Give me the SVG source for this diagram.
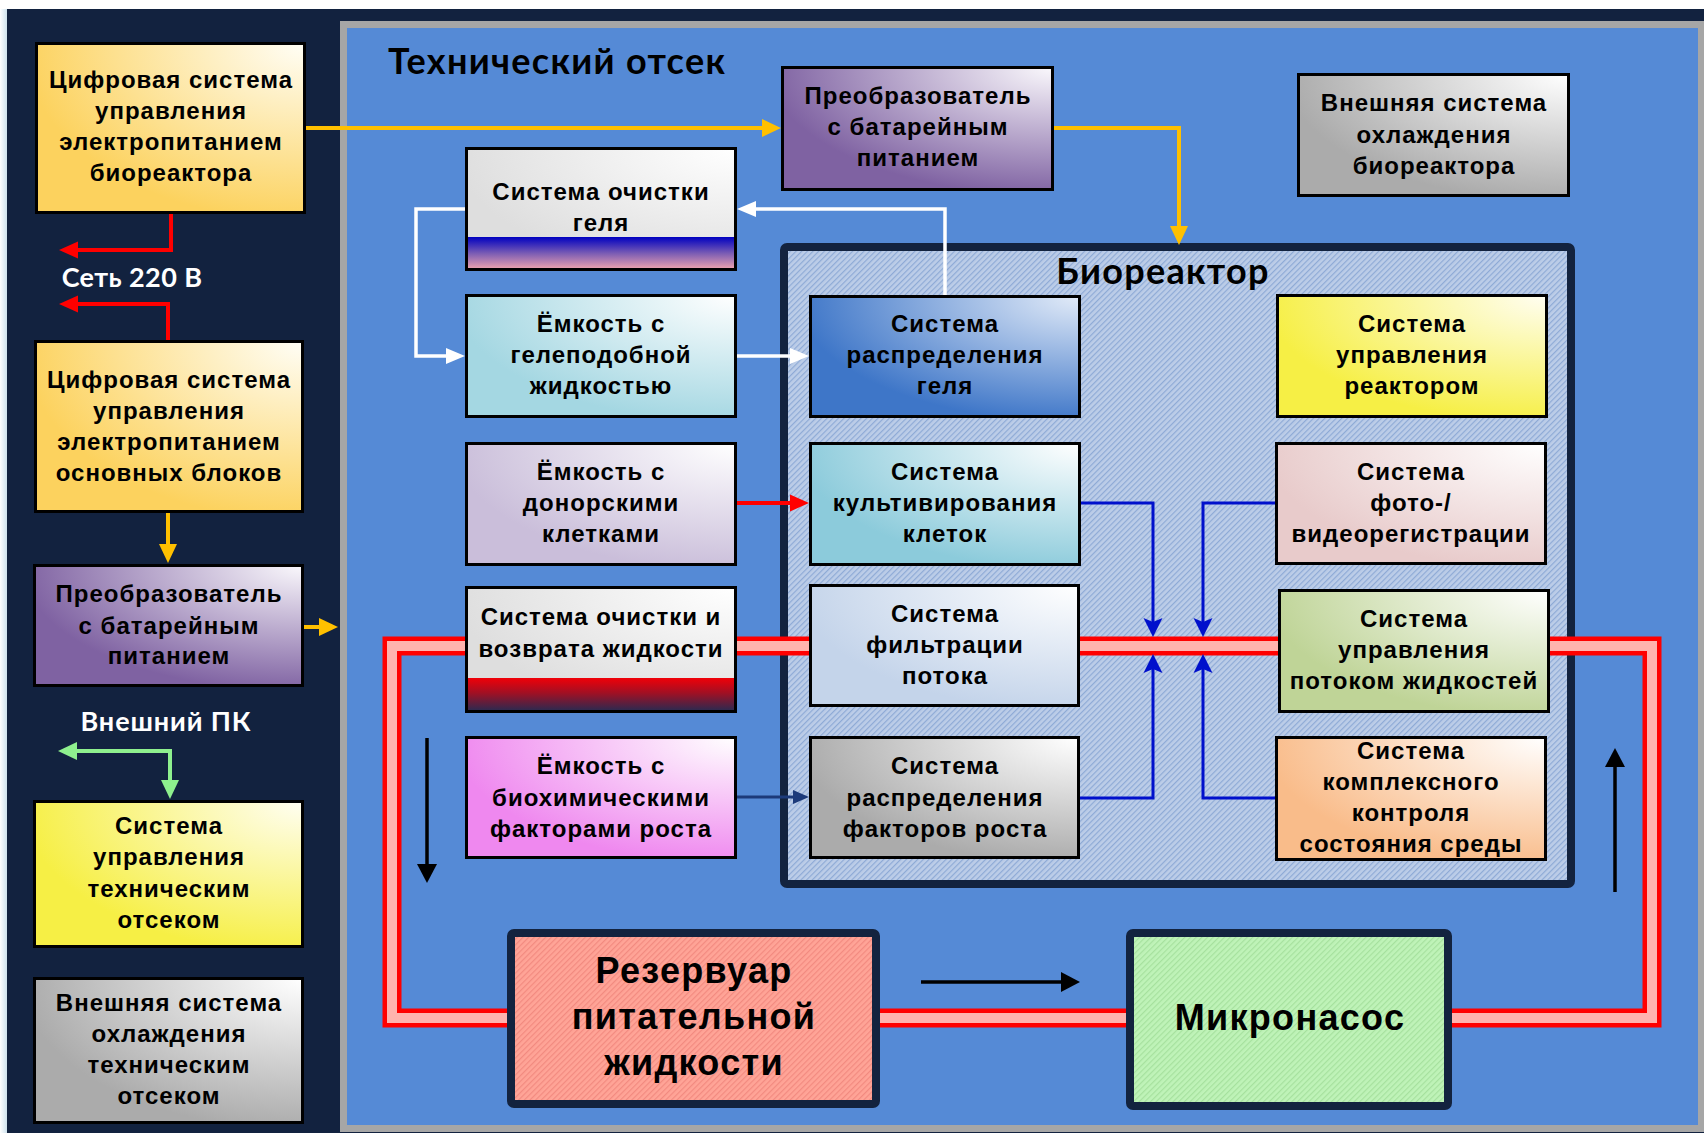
<svg xmlns="http://www.w3.org/2000/svg" width="1704" height="1133" viewBox="0 0 1704 1133">
<defs>
<style>
.t{font-family:"Liberation Sans",Arial,sans-serif;font-weight:bold;font-size:24px;letter-spacing:1px;text-anchor:middle;fill:#000}
.big{font-size:36px;letter-spacing:1.3px}
.ttl{font-family:Lato,"Liberation Sans",sans-serif;font-weight:bold;font-size:36px;letter-spacing:1.3px;fill:#000}
.lbl{font-family:Lato,"Liberation Sans",sans-serif;font-weight:bold;font-size:27px;fill:#fff;text-anchor:middle}
.bx{stroke:#000;stroke-width:3}
.bd{fill:none;stroke:#000;stroke-width:3}
.nv{stroke:#13233f;stroke-width:8}
.c{fill:none;stroke-linejoin:miter}
.cy{stroke:#ffc000;stroke-width:4}
.cr{stroke:#ff0000;stroke-width:4}
.cg{stroke:#8ef08e;stroke-width:4}
.cw{stroke:#ffffff;stroke-width:3.5}
.cb{stroke:#0010cc;stroke-width:3}
.cn{stroke:#1c3a7a;stroke-width:3}
.ck{stroke:#000;stroke-width:3.5}
</style>
<radialGradient id="gGold" cx="1" cy="0" r="1.05"><stop offset="0" stop-color="#fffef6"/><stop offset="1" stop-color="#fcd25e"/></radialGradient>
<radialGradient id="gPurple" cx="1" cy="0" r="1.05"><stop offset="0" stop-color="#faf8fc"/><stop offset="1" stop-color="#7f62a2"/></radialGradient>
<radialGradient id="gYellow" cx="1" cy="0" r="1.05"><stop offset="0" stop-color="#fffef2"/><stop offset="1" stop-color="#f6ef45"/></radialGradient>
<radialGradient id="gGray" cx="1" cy="0" r="1.05"><stop offset="0" stop-color="#ffffff"/><stop offset="1" stop-color="#ababab"/></radialGradient>
<radialGradient id="gLight" cx="1" cy="0" r="1.05"><stop offset="0" stop-color="#ffffff"/><stop offset="1" stop-color="#dedede"/></radialGradient>
<radialGradient id="gTeal1" cx="1" cy="0" r="1.05"><stop offset="0" stop-color="#ffffff"/><stop offset="1" stop-color="#a4d7e2"/></radialGradient>
<radialGradient id="gLav" cx="1" cy="0" r="1.05"><stop offset="0" stop-color="#ffffff"/><stop offset="1" stop-color="#cabeda"/></radialGradient>
<radialGradient id="gMag" cx="1" cy="0" r="1.05"><stop offset="0" stop-color="#ffffff"/><stop offset="1" stop-color="#ef88ef"/></radialGradient>
<radialGradient id="gBlue" cx="1" cy="0" r="1.05"><stop offset="0" stop-color="#e2ebf8"/><stop offset="1" stop-color="#3e76c8"/></radialGradient>
<radialGradient id="gTeal2" cx="1" cy="0" r="1.05"><stop offset="0" stop-color="#ffffff"/><stop offset="1" stop-color="#8ccbdb"/></radialGradient>
<radialGradient id="gFilt" cx="1" cy="0" r="1.05"><stop offset="0" stop-color="#ffffff"/><stop offset="1" stop-color="#c4d4ea"/></radialGradient>
<radialGradient id="gPink" cx="1" cy="0" r="1.05"><stop offset="0" stop-color="#ffffff"/><stop offset="1" stop-color="#e8cbcb"/></radialGradient>
<radialGradient id="gGreen" cx="1" cy="0" r="1.05"><stop offset="0" stop-color="#ffffff"/><stop offset="1" stop-color="#bfd497"/></radialGradient>
<radialGradient id="gOrange" cx="1" cy="0" r="1.05"><stop offset="0" stop-color="#ffffff"/><stop offset="1" stop-color="#f9bc8a"/></radialGradient>
<linearGradient id="bandBlue" x1="0" y1="0" x2="0" y2="1"><stop offset="0" stop-color="#0000c0"/><stop offset="0.5" stop-color="#7a5cb4"/><stop offset="1" stop-color="#f3a5ae"/></linearGradient>
<linearGradient id="bandRed" x1="0" y1="0" x2="0" y2="1"><stop offset="0" stop-color="#f00008"/><stop offset="0.45" stop-color="#a01024"/><stop offset="1" stop-color="#262b52"/></linearGradient>
<linearGradient id="edge" x1="0" y1="0" x2="1" y2="0"><stop offset="0" stop-color="#ffffff"/><stop offset="1" stop-color="#cfe3ee"/></linearGradient>
<pattern id="hB" width="4" height="4" patternUnits="userSpaceOnUse" patternTransform="rotate(45)"><rect width="4" height="4" fill="#bccde8"/><rect width="1.2" height="4" fill="#8eaad6"/></pattern>
<pattern id="hR" width="4" height="4" patternUnits="userSpaceOnUse" patternTransform="rotate(45)"><rect width="4" height="4" fill="#ffa497"/><rect width="1.2" height="4" fill="#f28a80"/></pattern>
<pattern id="hG" width="4" height="4" patternUnits="userSpaceOnUse" patternTransform="rotate(45)"><rect width="4" height="4" fill="#bff3b8"/><rect width="1.2" height="4" fill="#a6e19e"/></pattern>
<marker id="aY" viewBox="0 -10 20 20" markerWidth="20" markerHeight="20" refX="11" refY="0" orient="auto" markerUnits="userSpaceOnUse"><path d="M0,-9 L19,0 L0,9 z" fill="#ffc000"/></marker>
<marker id="aR" viewBox="0 -10 20 20" markerWidth="20" markerHeight="20" refX="11" refY="0" orient="auto" markerUnits="userSpaceOnUse"><path d="M0,-8.5 L19,0 L0,8.5 z" fill="#ff0000"/></marker>
<marker id="aG" viewBox="0 -10 20 20" markerWidth="20" markerHeight="20" refX="11" refY="0" orient="auto" markerUnits="userSpaceOnUse"><path d="M0,-9 L19,0 L0,9 z" fill="#8ef08e"/></marker>
<marker id="aW" viewBox="0 -10 20 20" markerWidth="20" markerHeight="20" refX="11" refY="0" orient="auto" markerUnits="userSpaceOnUse"><path d="M0,-8 L19,0 L0,8 z" fill="#ffffff"/></marker>
<marker id="aB" viewBox="0 -10 20 20" markerWidth="20" markerHeight="20" refX="11" refY="0" orient="auto" markerUnits="userSpaceOnUse"><path d="M0,-9.5 L19,0 L0,9.5 L4,0 z" fill="#0010cc"/></marker>
<marker id="aN" viewBox="0 -10 20 20" markerWidth="20" markerHeight="20" refX="11" refY="0" orient="auto" markerUnits="userSpaceOnUse"><path d="M3,-7 L19,0 L3,7 z" fill="#1c3a7a"/></marker>
<marker id="aK" viewBox="0 -10 20 20" markerWidth="20" markerHeight="20" refX="11" refY="0" orient="auto" markerUnits="userSpaceOnUse"><path d="M0,-10 L19,0 L0,10 z" fill="#000"/></marker>
</defs>

<rect x="0" y="0" width="1704" height="1133" fill="#ffffff"/>
<rect x="0" y="9" width="7" height="1124" fill="url(#edge)"/>
<rect x="7" y="9" width="1697" height="1124" fill="#12223f"/>

<g id="tech-compartment">
<rect x="343.5" y="24.5" width="1358" height="1104" fill="#558ad6" stroke="#a6a6a6" stroke-width="7"/>
<text class="ttl" x="388" y="74">Технический отсек</text>
</g>

<g id="bioreactor">
<rect x="784" y="247" width="787" height="637" rx="3" fill="url(#hB)" class="nv"/>
<text class="ttl" x="1163" y="284" text-anchor="middle">Биореактор</text>
</g>

<g id="pipe">
<rect x="392" y="646" width="1260" height="372" fill="none" stroke="#ff0000" stroke-width="19"/>
<rect x="392" y="646" width="1260" height="372" fill="none" stroke="#ffb3ae" stroke-width="10"/>
</g>

<g id="connectors" class="c">
<path class="c cy" d="M306,128 H773" marker-end="url(#aY)"/>
<path class="c cy" d="M1054,128 H1179 V237" marker-end="url(#aY)"/>
<path class="c cy" d="M168,513 V555" marker-end="url(#aY)"/>
<path class="c cy" d="M304,627 H330" marker-end="url(#aY)"/>
<path class="c cr" d="M171,214 V250 H67" marker-end="url(#aR)"/>
<path class="c cr" d="M168,342 V304 H67" marker-end="url(#aR)"/>
<path class="c cr" d="M737,503 H801" marker-end="url(#aR)"/>
<path class="c cg" d="M170,751 H66" marker-end="url(#aG)"/>
<path class="c cg" d="M170,749 V791" marker-end="url(#aG)"/>
<path class="c cw" d="M465,209 H416 V356 H457" marker-end="url(#aW)"/>
<path class="c cw" d="M737,356 H801" marker-end="url(#aW)"/>
<path class="c cw" d="M945,295 V209 H745" marker-end="url(#aW)"/>
<path class="c cb" d="M1080,503 H1153 V629" marker-end="url(#aB)"/>
<path class="c cb" d="M1275,503 H1203 V629" marker-end="url(#aB)"/>
<path class="c cb" d="M1080,798 H1153 V662" marker-end="url(#aB)"/>
<path class="c cb" d="M1275,798 H1203 V662" marker-end="url(#aB)"/>
<path class="c cn" d="M737,797 H801" marker-end="url(#aN)"/>
<path class="c ck" d="M427,738 V875" marker-end="url(#aK)"/>
<path class="c ck" d="M1615,892 V756" marker-end="url(#aK)"/>
<path class="c ck" d="M921,982 H1072" marker-end="url(#aK)"/>
</g>

<g id="net-label"><text class="lbl" x="132" y="287" letter-spacing="0.4">Сеть 220 В</text></g>
<g id="pc-label"><text class="lbl" x="166" y="731" letter-spacing="0.9">Внешний ПК</text></g>

<g id="power-bioreactor">
<rect class="bx" x="36.5" y="43.5" width="268" height="169" fill="url(#gGold)"/>
<text class="t" x="171" y="88">Цифровая система</text>
<text class="t" x="171" y="119">управления</text>
<text class="t" x="171" y="150">электропитанием</text>
<text class="t" x="171" y="181">биореактора</text>
</g>

<g id="power-main">
<rect class="bx" x="35.5" y="341.5" width="267" height="170" fill="url(#gGold)"/>
<text class="t" x="169" y="388">Цифровая система</text>
<text class="t" x="169" y="419">управления</text>
<text class="t" x="169" y="450">электропитанием</text>
<text class="t" x="169" y="481">основных блоков</text>
</g>

<g id="converter-left">
<rect class="bx" x="34.5" y="565.5" width="268" height="120" fill="url(#gPurple)"/>
<text class="t" x="169" y="602">Преобразователь</text>
<text class="t" x="169" y="634">с батарейным</text>
<text class="t" x="169" y="664">питанием</text>
</g>

<g id="tech-control">
<rect class="bx" x="34.5" y="801.5" width="268" height="145" fill="url(#gYellow)"/>
<text class="t" x="169" y="834">Система</text>
<text class="t" x="169" y="865">управления</text>
<text class="t" x="169" y="897">техническим</text>
<text class="t" x="169" y="928">отсеком</text>
</g>

<g id="tech-cooling">
<rect class="bx" x="34.5" y="978.5" width="268" height="144" fill="url(#gGray)"/>
<text class="t" x="169" y="1011">Внешняя система</text>
<text class="t" x="169" y="1042">охлаждения</text>
<text class="t" x="169" y="1073">техническим</text>
<text class="t" x="169" y="1104">отсеком</text>
</g>

<g id="converter-top">
<rect class="bx" x="782.5" y="67.5" width="270" height="122" fill="url(#gPurple)"/>
<text class="t" x="918" y="104">Преобразователь</text>
<text class="t" x="918" y="135">с батарейным</text>
<text class="t" x="918" y="166">питанием</text>
</g>

<g id="bio-cooling">
<rect class="bx" x="1298.5" y="74.5" width="270" height="121" fill="url(#gGray)"/>
<text class="t" x="1434" y="111">Внешняя система</text>
<text class="t" x="1434" y="143">охлаждения</text>
<text class="t" x="1434" y="174">биореактора</text>
</g>

<g id="gel-cleaning">
<rect x="466.5" y="148.5" width="269" height="121" fill="url(#gLight)"/>
<rect x="466.5" y="237" width="269" height="32.5" fill="url(#bandBlue)"/>
<rect class="bd" x="466.5" y="148.5" width="269" height="121"/>
<text class="t" x="601" y="200">Система очистки</text>
<text class="t" x="601" y="231">геля</text>
</g>

<g id="gel-tank">
<rect class="bx" x="466.5" y="295.5" width="269" height="121" fill="url(#gTeal1)"/>
<text class="t" x="601" y="332">Ёмкость с</text>
<text class="t" x="601" y="363">гелеподобной</text>
<text class="t" x="601" y="394">жидкостью</text>
</g>

<g id="donor-tank">
<rect class="bx" x="466.5" y="443.5" width="269" height="121" fill="url(#gLav)"/>
<text class="t" x="601" y="480">Ёмкость с</text>
<text class="t" x="601" y="511">донорскими</text>
<text class="t" x="601" y="542">клетками</text>
</g>

<g id="fluid-return">
<rect x="466.5" y="587.5" width="269" height="124" fill="url(#gLight)"/>
<rect x="466.5" y="678" width="269" height="33.5" fill="url(#bandRed)"/>
<rect class="bd" x="466.5" y="587.5" width="269" height="124"/>
<text class="t" x="601" y="625">Система очистки и</text>
<text class="t" x="601" y="657">возврата жидкости</text>
</g>

<g id="growth-tank">
<rect class="bx" x="466.5" y="737.5" width="269" height="120" fill="url(#gMag)"/>
<text class="t" x="601" y="774">Ёмкость с</text>
<text class="t" x="601" y="806">биохимическими</text>
<text class="t" x="601" y="837">факторами роста</text>
</g>

<g id="gel-distribution">
<rect class="bx" x="810.5" y="296.5" width="269" height="120" fill="url(#gBlue)"/>
<text class="t" x="945" y="332">Система</text>
<text class="t" x="945" y="363">распределения</text>
<text class="t" x="945" y="394">геля</text>
</g>

<g id="cultivation">
<rect class="bx" x="810.5" y="443.5" width="269" height="121" fill="url(#gTeal2)"/>
<text class="t" x="945" y="480">Система</text>
<text class="t" x="945" y="511">культивирования</text>
<text class="t" x="945" y="542">клеток</text>
</g>

<g id="filtration">
<rect class="bx" x="810.5" y="585.5" width="268" height="120" fill="url(#gFilt)"/>
<text class="t" x="945" y="622">Система</text>
<text class="t" x="945" y="653">фильтрации</text>
<text class="t" x="945" y="684">потока</text>
</g>

<g id="growth-distribution">
<rect class="bx" x="810.5" y="737.5" width="268" height="120" fill="url(#gGray)"/>
<text class="t" x="945" y="774">Система</text>
<text class="t" x="945" y="806">распределения</text>
<text class="t" x="945" y="837">факторов роста</text>
</g>

<g id="reactor-control">
<rect class="bx" x="1277.5" y="295.5" width="269" height="121" fill="url(#gYellow)"/>
<text class="t" x="1412" y="332">Система</text>
<text class="t" x="1412" y="363">управления</text>
<text class="t" x="1412" y="394">реактором</text>
</g>

<g id="photo-video">
<rect class="bx" x="1276.5" y="443.5" width="269" height="120" fill="url(#gPink)"/>
<text class="t" x="1411" y="480">Система</text>
<text class="t" x="1411" y="511">фото-/</text>
<text class="t" x="1411" y="542">видеорегистрации</text>
</g>

<g id="flow-control">
<rect class="bx" x="1279.5" y="590.5" width="269" height="121" fill="url(#gGreen)"/>
<text class="t" x="1414" y="627">Система</text>
<text class="t" x="1414" y="658">управления</text>
<text class="t" x="1414" y="689">потоком жидкостей</text>
</g>

<g id="env-control">
<rect class="bx" x="1276.5" y="737.5" width="269" height="122" fill="url(#gOrange)"/>
<text class="t" x="1411" y="759">Система</text>
<text class="t" x="1411" y="790">комплексного</text>
<text class="t" x="1411" y="821">контроля</text>
<text class="t" x="1411" y="852">состояния среды</text>
</g>

<g id="reservoir">
<rect class="nv" x="511" y="933" width="365" height="171" rx="3" fill="url(#hR)"/>
<text class="t big" x="694" y="983">Резервуар</text>
<text class="t big" x="694" y="1029">питательной</text>
<text class="t big" x="694" y="1075">жидкости</text>
</g>

<g id="micropump">
<rect class="nv" x="1130" y="933" width="318" height="173" rx="3" fill="url(#hG)"/>
<text class="t big" x="1290" y="1030">Микронасос</text>
</g>
</svg>
